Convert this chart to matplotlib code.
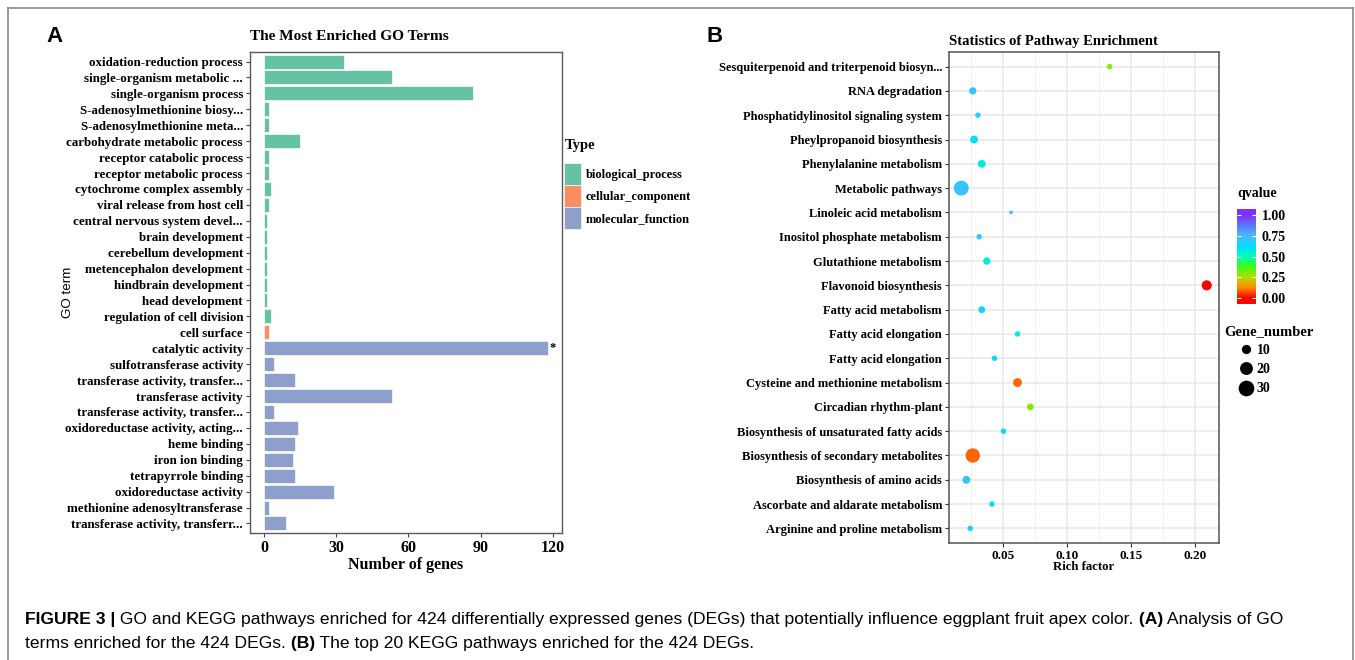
import matplotlib
matplotlib.use("Agg")
import numpy as np
import matplotlib.pyplot as plt
from matplotlib.colors import LinearSegmentedColormap, Normalize
from matplotlib.cm import ScalarMappable
from matplotlib.patches import Patch
from matplotlib.lines import Line2D
from matplotlib.text import Annotation

# ---- panel A: GO terms, top to bottom ----
go_terms = [
    "oxidation-reduction process",
    "single-organism metabolic ...",
    "single-organism process",
    "S-adenosylmethionine biosy...",
    "S-adenosylmethionine meta...",
    "carbohydrate metabolic process",
    "receptor catabolic process",
    "receptor metabolic process",
    "cytochrome complex assembly",
    "viral release from host cell",
    "central nervous system devel...",
    "brain development",
    "cerebellum development",
    "metencephalon development",
    "hindbrain development",
    "head development",
    "regulation of cell division",
    "cell surface",
    "catalytic activity",
    "sulfotransferase activity",
    "transferase activity, transfer...",
    "transferase activity",
    "transferase activity, transfer...",
    "oxidoreductase activity, acting...",
    "heme binding",
    "iron ion binding",
    "tetrapyrrole binding",
    "oxidoreductase activity",
    "methionine adenosyltransferase",
    "transferase activity, transferr...",
]
go_genes = [33, 53, 87, 2, 2, 15, 2, 2, 3, 2, 1, 1, 1, 1, 1, 1, 3,
            2,
            118, 4, 13, 53, 4, 14, 13, 12, 13, 29, 2, 9]
go_types = (["biological_process"] * 17 + ["cellular_component"]
            + ["molecular_function"] * 12)
type_names = ["biological_process", "cellular_component", "molecular_function"]
type_colors = ["#66C2A5", "#FC8D62", "#8DA0CB"]
go_xticks = [0, 30, 60, 90, 120]

# ---- panel B: KEGG pathways, top to bottom ----
pathways = [
    "Sesquiterpenoid and triterpenoid biosyn...",
    "RNA degradation",
    "Phosphatidylinositol signaling system",
    "Pheylpropanoid biosynthesis",
    "Phenylalanine metabolism",
    "Metabolic pathways",
    "Linoleic acid metabolism",
    "Inositol phosphate metabolism",
    "Glutathione metabolism",
    "Flavonoid biosynthesis",
    "Fatty acid metabolism",
    "Fatty acid elongation",
    "Fatty acid elongation",
    "Cysteine and methionine metabolism",
    "Circadian rhythm-plant",
    "Biosynthesis of unsaturated fatty acids",
    "Biosynthesis of secondary metabolites",
    "Biosynthesis of amino acids",
    "Ascorbate and aldarate metabolism",
    "Arginine and proline metabolism",
]
rich_factor = [0.133, 0.026, 0.030, 0.027, 0.033, 0.017, 0.056, 0.031, 0.037, 0.209,
               0.033, 0.061, 0.043, 0.061, 0.071, 0.050, 0.026, 0.021, 0.041, 0.024]
qvalue = [0.30, 0.71, 0.69, 0.62, 0.57, 0.71, 0.72, 0.69, 0.57, 0.00,
          0.62, 0.56, 0.62, 0.09, 0.30, 0.62, 0.09, 0.70, 0.63, 0.69]
gene_number = [3, 6, 3, 7, 7, 27, 1, 3, 6, 12,
               5, 3, 3, 9, 5, 3, 25, 7, 3, 3]
rf_ticks = [0.05, 0.10, 0.15, 0.20]
q_ticks = [0.0, 0.25, 0.5, 0.75, 1.0]
size_breaks = [10, 20, 30]

W, H = 1355, 660
SERIF = "Liberation Serif"
SANS = "Liberation Sans"


def fx(px):
    return px / W


def fy(py):
    return 1 - py / H


def dot_px(n):
    # marker diameter in pixels for a gene count
    return np.sqrt(6 + 8 * np.asarray(n, dtype=float))


fig = plt.figure(figsize=(W / 100, H / 100), dpi=100)
fig.patch.set_facecolor("white")

# outer frame of the figure panel
for xs, ys in [([8, 8], [8, H]), ([8, 1353], [8, 8]), ([1353, 1353], [8, H])]:
    fig.add_artist(Line2D([fx(x) for x in xs], [fy(y) for y in ys],
                          color="#8a8a8a", lw=1.2, transform=fig.transFigure))

# ================= panel A =================
ax_a = fig.add_axes([fx(250), fy(533), fx(562) - fx(250), (533 - 52) / H])
n_go = len(go_terms)
ypos = np.arange(n_go, 0, -1)
cmap_type = dict(zip(type_names, type_colors))
ax_a.barh(ypos, go_genes, height=0.88,
          color=[cmap_type[t] for t in go_types],
          edgecolor="#f4f4f4", linewidth=0.6)
ax_a.set_ylim(0.4, n_go + 0.6)
ax_a.set_xlim(-5.9, 123.9)
ax_a.set_yticks(ypos)
ax_a.set_yticklabels(go_terms, fontfamily=SERIF, fontweight="bold", fontsize=9.4)
ax_a.set_xticks(go_xticks)
ax_a.set_xticklabels([str(v) for v in go_xticks], fontfamily=SERIF,
                     fontweight="bold", fontsize=11.5)
ax_a.tick_params(axis="y", length=3, width=0.8, color="#444444", pad=2)
ax_a.tick_params(axis="x", length=3, width=0.8, color="#444444", pad=2)
for sp in ax_a.spines.values():
    sp.set_color("#5a5a5a")
    sp.set_linewidth(1.0)
ax_a.set_xlabel("Number of genes", fontfamily=SERIF, fontweight="bold",
                fontsize=11.5, labelpad=1)
ax_a.set_title("The Most Enriched GO Terms", fontfamily=SERIF, fontweight="bold",
               fontsize=11, pad=9, loc="left")
# star on the largest bar
i_max = int(np.argmax(go_genes))
ax_a.text(go_genes[i_max] + 0.8, ypos[i_max], "*", fontfamily=SERIF,
          fontweight="bold", fontsize=9, va="center", ha="left")

fig.text(fx(68), fy(292), "GO term", rotation=90, fontfamily=SANS, fontsize=9.6,
         ha="center", va="center")
fig.text(fx(46), fy(36), "A", fontfamily=SANS, fontweight="bold", fontsize=16,
         ha="left", va="center")

fig.text(fx(565), fy(145), "Type", fontfamily=SERIF, fontweight="bold",
         fontsize=10.5, ha="left", va="center")
type_handles = [Patch(facecolor=c, edgecolor="#f4f4f4", linewidth=0.6, label=n)
                for n, c in zip(type_names, type_colors)]
leg_a = fig.legend(handles=type_handles, loc="upper left",
                   bbox_to_anchor=(fx(555), fy(154)), frameon=False,
                   prop={"family": SERIF, "weight": "bold", "size": 9},
                   handlelength=1.4, handleheight=2.35, labelspacing=0.0,
                   handletextpad=0.35, borderpad=0.2)

# ================= panel B =================
ax_b = fig.add_axes([fx(949), fy(543), fx(1219) - fx(949), (543 - 52) / H])
n_pw = len(pathways)
ypb = np.arange(n_pw, 0, -1)
qcmap = LinearSegmentedColormap.from_list("qv", [
    (0.00, "#FF0000"), (0.125, "#FF8C00"), (0.25, "#B4DC00"), (0.375, "#3CFF14"),
    (0.50, "#00FFB4"), (0.625, "#00DCFF"), (0.75, "#50B8FF"), (0.875, "#5A78FF"),
    (1.00, "#7F30FF")])
qnorm = Normalize(0, 1)
ax_b.scatter(rich_factor, ypb, s=(dot_px(gene_number) * 0.72) ** 2,
             c=qvalue, cmap=qcmap, norm=qnorm, edgecolors="none", zorder=3)
ax_b.set_xlim(0.0074, 0.2186)
ax_b.set_ylim(0.4, n_pw + 0.6)
ax_b.set_yticks(ypb)
ax_b.set_yticklabels(pathways, fontfamily=SERIF, fontweight="bold", fontsize=9.0)
ax_b.set_xticks(rf_ticks)
ax_b.set_xticklabels(["%.2f" % v for v in rf_ticks], fontfamily=SERIF,
                     fontweight="bold", fontsize=9.5)
ax_b.set_xticks([0.025, 0.075, 0.125, 0.175], minor=True)
ax_b.grid(True, which="major", color="#E8E8E8", lw=1.1, zorder=0)
ax_b.grid(True, which="minor", axis="x", color="#F0F0F0", lw=0.7, zorder=0)
ax_b.set_axisbelow(True)
ax_b.tick_params(axis="both", which="major", length=3, width=0.8, color="#333333", pad=2)
ax_b.tick_params(axis="x", which="minor", length=0)
for sp in ax_b.spines.values():
    sp.set_color("#555555")
    sp.set_linewidth(1.1)
ax_b.set_xlabel("Rich factor", fontfamily=SERIF, fontweight="bold", fontsize=9.2,
                labelpad=-1)
ax_b.set_title("Statistics of Pathway Enrichment", fontfamily=SERIF,
               fontweight="bold", fontsize=10.5, pad=5, loc="left")
fig.text(fx(706), fy(36), "B", fontfamily=SANS, fontweight="bold", fontsize=16,
         ha="left", va="center")

# qvalue colour bar (drawn a little beyond 0..1 like ggplot's bar)
cb_lo, cb_hi = -0.07, 1.07
cb_cmap = LinearSegmentedColormap.from_list(
    "qv_bar", [qcmap(qnorm(v)) for v in np.linspace(cb_lo, cb_hi, 256).clip(0, 1)])
cax = fig.add_axes([fx(1237), fy(304), fx(1256) - fx(1237), (304 - 209) / H])
cb = fig.colorbar(ScalarMappable(norm=Normalize(cb_lo, cb_hi), cmap=cb_cmap), cax=cax)
cb.outline.set_visible(False)
cb.set_ticks(q_ticks)
cb.set_ticklabels(["%.2f" % v for v in q_ticks])
cax.tick_params(axis="y", direction="in", color="white", length=3, width=0.8,
                left=True, right=True, pad=4)
for lab in cax.get_yticklabels():
    lab.set_fontfamily(SERIF)
    lab.set_fontweight("bold")
    lab.set_fontsize(10)
fig.text(fx(1237), fy(193), "qvalue", fontfamily=SERIF, fontweight="bold",
         fontsize=10, ha="left", va="center")

# Gene_number size legend
size_handles = [Line2D([], [], marker="o", ls="", color="black", markeredgewidth=0,
                       markersize=dot_px(v) * 0.72, label=str(v)) for v in size_breaks]
leg_b = fig.legend(handles=size_handles, title="Gene_number", loc="upper left",
                   bbox_to_anchor=(fx(1215), fy(315)), frameon=False,
                   prop={"family": SERIF, "weight": "bold", "size": 10},
                   title_fontproperties={"family": SERIF, "weight": "bold", "size": 10.5},
                   handlelength=3.1, labelspacing=0.45, handletextpad=-0.8,
                   borderpad=0.2, alignment="left")

# ================= caption =================
line1 = [("FIGURE 3 |", "bold"),
         (" GO and KEGG pathways enriched for 424 differentially expressed genes (DEGs) "
          "that potentially influence eggplant fruit apex color.", "normal"),
         (" (A)", "bold"), (" Analysis of GO", "normal")]
line2 = [("terms enriched for the 424 DEGs.", "normal"), (" (B)", "bold"),
         (" The top 20 KEGG pathways enriched for the 424 DEGs.", "normal")]
for segs, ybase in [(line1, 627), (line2, 651)]:
    prev = fig.text(fx(25), fy(ybase), segs[0][0], fontfamily=SANS,
                    fontweight=segs[0][1], fontsize=12.6, ha="left", va="bottom")
    for txt, wt in segs[1:]:
        ann = Annotation(txt, xy=(1, 0), xycoords=prev, fontfamily=SANS,
                         fontweight=wt, fontsize=12.6, ha="left", va="bottom")
        fig.add_artist(ann)
        prev = ann

fig.savefig("out.png", dpi=100, facecolor="white")
